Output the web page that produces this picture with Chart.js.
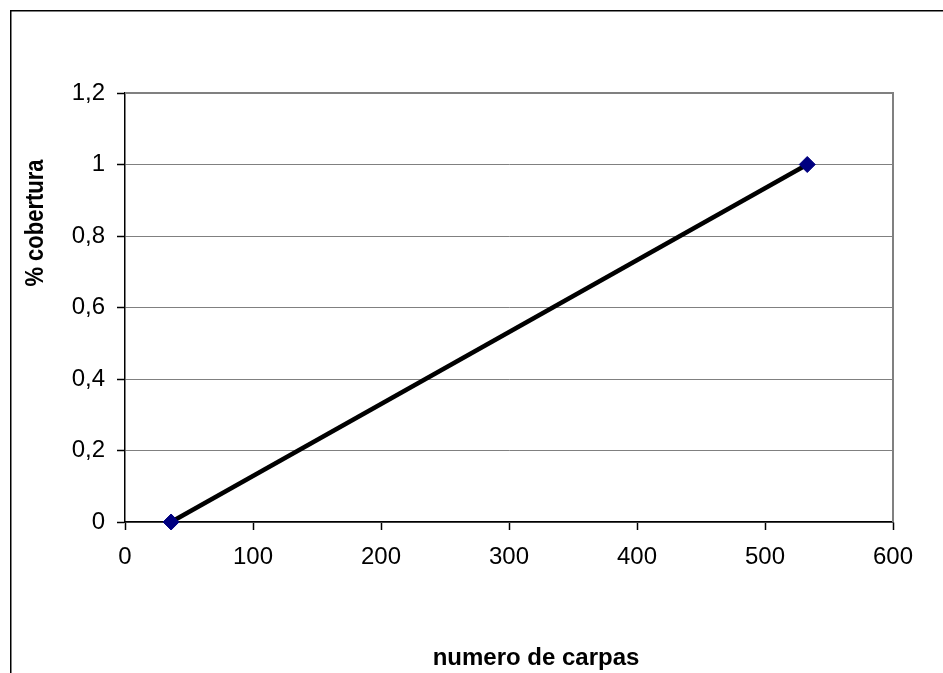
<!DOCTYPE html>
<html>
<head>
<meta charset="utf-8">
<script src="https://cdn.jsdelivr.net/npm/chart.js@4"></script>
<style>
  html, body { margin: 0; padding: 0; background: #ffffff; }
  #wrap { width: 943px; height: 673px; position: relative; }
</style>
</head>
<body>
<div id="wrap"><canvas id="c" width="943" height="673"></canvas></div>
<script>
// Number of carp vs. coverage fraction
const carpCounts = [36, 533];
const coverage = [0, 1];
const xTickLabels = ['0', '100', '200', '300', '400', '500', '600'];
const yTickLabels = ['0', '0,2', '0,4', '0,6', '0,8', '1', '1,2'];
const xTitle = 'numero de carpas';
const yTitle = '% cobertura';

const FONT = '"Liberation Sans", Arial, Helvetica, sans-serif';

// Outer frame, plot frame and axis titles
const decor = {
  id: 'decor',
  beforeDraw(chart) {
    const ctx = chart.ctx;
    ctx.save();
    ctx.fillStyle = '#ffffff';
    ctx.fillRect(0, 0, chart.width, chart.height);
    ctx.strokeStyle = '#000000';
    ctx.lineWidth = 1.5;
    ctx.beginPath();
    ctx.moveTo(10.75, chart.height);
    ctx.lineTo(10.75, 10.75);
    ctx.lineTo(chart.width, 10.75);
    ctx.stroke();
    ctx.restore();
  },
  beforeDatasetsDraw(chart) {
    const ctx = chart.ctx;
    const a = chart.chartArea;
    ctx.save();
    ctx.strokeStyle = '#808080';
    ctx.lineWidth = 2;
    ctx.beginPath();
    ctx.moveTo(a.left, a.top);
    ctx.lineTo(a.right, a.top);
    ctx.lineTo(a.right, a.bottom);
    ctx.stroke();
    ctx.restore();
  },
  afterDraw(chart) {
    const ctx = chart.ctx;
    ctx.save();
    ctx.fillStyle = '#000000';
    ctx.font = 'bold 24px ' + FONT;
    ctx.textAlign = 'center';
    ctx.textBaseline = 'alphabetic';
    ctx.fillText(xTitle, 536, 665);
    ctx.translate(43, 223);
    ctx.rotate(-Math.PI / 2);
    ctx.scale(1, 1.15);
    ctx.font = 'bold 22px ' + FONT;
    ctx.fillText(yTitle, 0, 0);
    ctx.restore();
  }
};

new Chart(document.getElementById('c'), {
  type: 'scatter',
  data: {
    datasets: [{
      data: carpCounts.map((x, i) => ({ x, y: coverage[i] })),
      showLine: true,
      borderColor: '#000000',
      borderWidth: 4.5,
      tension: 0,
      pointStyle: 'rectRot',
      pointRadius: 8,
      pointHoverRadius: 8,
      pointBackgroundColor: '#000080',
      pointBorderColor: '#000080',
      pointBorderWidth: 1,
      clip: false
    }]
  },
  options: {
    responsive: false,
    animation: false,
    events: [],
    layout: { padding: { top: 93, right: 50, left: 0, bottom: 0 } },
    plugins: { legend: { display: false }, tooltip: { enabled: false } },
    scales: {
      x: {
        type: 'linear',
        min: 0, max: 600,
        afterFit(s) { s.height = 151; },
        ticks: {
          stepSize: 100,
          padding: 13,
          color: '#000000',
          font: { family: FONT, size: 24 },
          maxRotation: 0,
          callback: (v, i) => xTickLabels[i]
        },
        grid: { drawOnChartArea: false, tickLength: 8, tickColor: '#000000', tickWidth: 1.5 },
        border: { color: '#000000', width: 1.5 }
      },
      y: {
        type: 'linear',
        min: 0, max: 1.2,
        afterFit(s) { s.width = 125; },
        ticks: {
          stepSize: 0.2,
          padding: 12,
          color: '#000000',
          font: { family: FONT, size: 24 },
          callback: (v, i) => yTickLabels[i]
        },
        grid: { color: '#808080', lineWidth: 1, tickLength: 8, tickColor: '#000000', tickWidth: 1.5 },
        border: { color: '#000000', width: 1.5 }
      }
    }
  },
  plugins: [decor]
});
</script>
</body>
</html>
